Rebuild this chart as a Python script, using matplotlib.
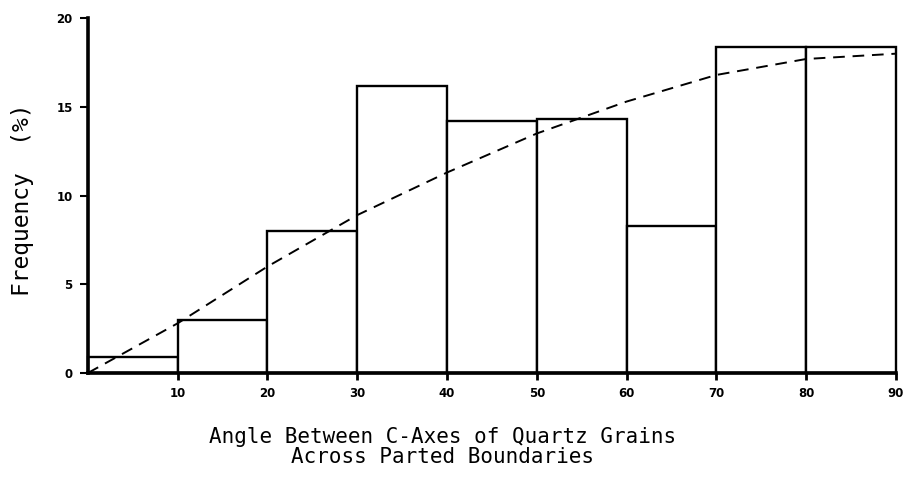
import numpy as np
import matplotlib
matplotlib.use("Agg")
import matplotlib.pyplot as plt

# bins (degrees) and observed frequency (%)
bin_left = [0, 10, 20, 30, 40, 50, 60, 70, 80]
bin_width = 10
freq = [0.9, 3.0, 8.0, 16.2, 14.2, 14.3, 8.3, 18.4, 18.4]

# dashed reference curve, read at every 10 degrees
curve_x = [0, 10, 20, 30, 40, 50, 60, 70, 80, 90]
curve_y = [0.0, 2.8, 6.0, 8.9, 11.3, 13.5, 15.3, 16.8, 17.7, 18.0]

xticks = [10, 20, 30, 40, 50, 60, 70, 80, 90]
yticks = [0, 5, 10, 15, 20]

fig = plt.figure(figsize=(9.04, 4.92), dpi=100)
ax = fig.add_axes([0.0973, 0.242, 0.8937, 0.721])

bars = ax.bar(bin_left, freq, width=bin_width, align="edge",
              facecolor="white", edgecolor="black", linewidth=1.7, zorder=2)
for b in bars:
    b.set_clip_on(False)
ax.plot(curve_x, curve_y, color="black", linestyle=(0, (6, 4)),
        linewidth=1.4, zorder=3, clip_on=False)

ax.set_xlim(0, 90)
ax.set_ylim(0, 20)
ax.spines["top"].set_visible(False)
ax.spines["right"].set_visible(False)
ax.spines["left"].set_linewidth(2.6)
ax.spines["bottom"].set_linewidth(2.6)
ax.spines["left"].set_zorder(4)
ax.spines["bottom"].set_zorder(4)

ax.set_xticks(xticks)
ax.set_xticklabels([str(v) for v in xticks], fontsize=8.5, fontweight="bold",
                   family="DejaVu Sans")
ax.set_yticks(yticks)
ax.set_yticklabels([str(v) for v in yticks], fontsize=8.5, fontweight="bold",
                   family="DejaVu Sans")
ax.tick_params(axis="x", length=5, width=2, direction="out", pad=5)
ax.tick_params(axis="y", length=6, width=1.5, direction="out", pad=5)

fig.text(0.025, 0.595, "Frequency  (%)", rotation=90, ha="center", va="center",
         fontsize=16.5, family="DejaVu Sans Mono")
fig.text(0.49, 0.092, "Angle Between C-Axes of Quartz Grains\nAcross Parted Boundaries",
         ha="center", va="center", fontsize=15, family="DejaVu Sans Mono",
         linespacing=1.0)

fig.savefig("out.png", dpi=100)
